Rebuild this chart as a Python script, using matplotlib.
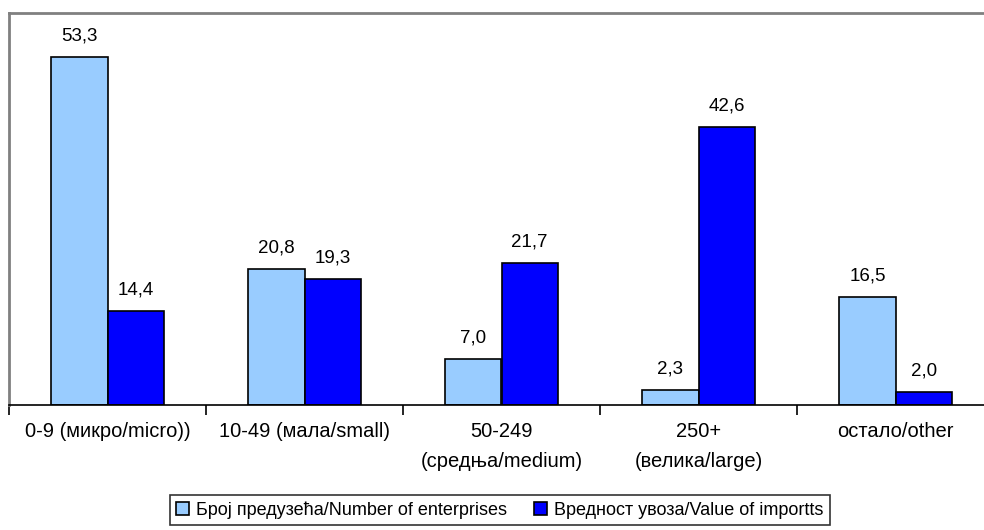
import matplotlib
matplotlib.use("Agg")
import matplotlib.pyplot as plt
import numpy as np

plt.rcParams['font.family'] = ['Liberation Sans', 'DejaVu Sans']

categories = ["0-9 (микро/micro))", "10-49 (мала/small)", "50-249\n(средња/medium)",
              "250+\n(велика/large)", "остало/other"]
enterprises = [53.3, 20.8, 7.0, 2.3, 16.5]
imports = [14.4, 19.3, 21.7, 42.6, 2.0]
series_names = ["Број предузећа/Number of enterprises", "Вредност увоза/Value of importts"]

fig = plt.figure(figsize=(9.84, 5.30), dpi=100)
ax = fig.add_axes([9/984, (530-405)/530, (994-9)/984, (405-13)/530])

x = np.arange(len(categories))
w = 0.285
b1 = ax.bar(x - w/2, enterprises, w, color='#99CCFF', edgecolor='black', linewidth=1.2,
            label=series_names[0])
b2 = ax.bar(x + w/2, imports, w, color='#0000FF', edgecolor='black', linewidth=1.2,
            label=series_names[1])

def fmt(v):
    return f"{v:.1f}".replace('.', ',')

for bars, vals in ((b1, enterprises), (b2, imports)):
    for r, v in zip(bars, vals):
        ax.annotate(fmt(v), (r.get_x() + r.get_width()/2, v), xytext=(0, 9),
                    textcoords='offset points', ha='center', va='bottom', fontsize=13.5)

ax.set_xlim(-0.5, len(categories) - 0.5)
ax.set_ylim(0, 60)
ax.set_yticks([])
ax.set_xticks(x)
ax.set_xticklabels(categories, fontsize=14.5, linespacing=1.75)
ax.set_xticks(np.arange(len(categories) + 1) - 0.5, minor=True)
ax.tick_params(axis='x', which='major', length=0, pad=12)
ax.tick_params(axis='x', which='minor', length=7, width=1.2, direction='out', color='black')

for s in ('left', 'top', 'right'):
    ax.spines[s].set_color('#808080')
    ax.spines[s].set_linewidth(2)
ax.spines['bottom'].set_color('black')
ax.spines['bottom'].set_linewidth(1.2)

leg = fig.legend(loc='center', bbox_to_anchor=(500/984, 1 - 510/530),
                 bbox_transform=fig.transFigure,
                 ncol=2, fontsize=13, frameon=True, fancybox=False, edgecolor='black',
                 handlelength=0.7, handleheight=0.7, handletextpad=0.4, columnspacing=1.5,
                 borderpad=0.35, borderaxespad=0)
leg.get_frame().set_linewidth(1.2)

fig.savefig("out.png", dpi=100)
